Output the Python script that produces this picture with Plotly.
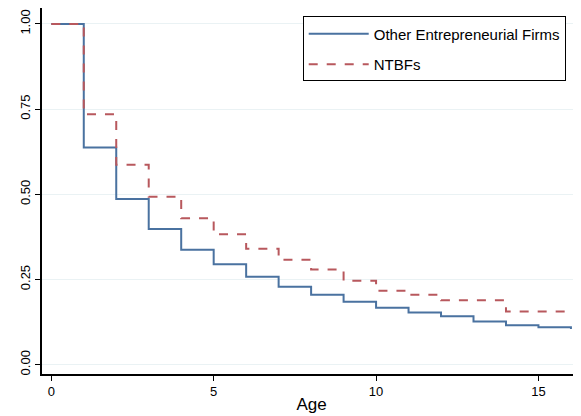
import plotly.graph_objects as go

ages = list(range(0, 17))
other_firms = [1.0, 0.637, 0.486, 0.398, 0.337, 0.295, 0.258, 0.229, 0.205,
               0.185, 0.167, 0.153, 0.142, 0.127, 0.116, 0.110, 0.105]
ntbfs = [1.0, 0.735, 0.587, 0.493, 0.430, 0.383, 0.340, 0.308, 0.279,
         0.246, 0.217, 0.205, 0.189, 0.189, 0.156, 0.156, 0.156]

y_ticks = [0.0, 0.25, 0.5, 0.75, 1.0]
y_tick_labels = ["0.00", "0.25", "0.50", "0.75", "1.00"]
x_ticks = [0, 5, 10, 15]

fig = go.Figure()
fig.add_trace(go.Scatter(x=ages, y=other_firms, mode="lines", line_shape="hv",
                         name="Other Entrepreneurial Firms", legendgroup="a",
                         line=dict(color="#4a72a0", width=2)))
fig.add_trace(go.Scatter(x=ages, y=ntbfs, mode="lines", line_shape="hv",
                         name="NTBFs", legendgroup="b",
                         line=dict(color="#b8585d", width=2, dash="dash")))

fig.update_layout(
    width=573, height=408,
    margin=dict(l=34, r=0, t=0, b=42),
    paper_bgcolor="white", plot_bgcolor="white",
    font=dict(family="Liberation Sans, Arial, sans-serif", color="black", size=13),
    showlegend=True,
    legend=dict(x=0.4837, y=0.977, xanchor="left", yanchor="top",
                bgcolor="white", bordercolor="black", borderwidth=1,
                font=dict(size=15), itemwidth=60, tracegroupgap=8),
    xaxis=dict(range=[-0.286, 16.31], tickvals=x_ticks, showgrid=False,
               showline=True, linecolor="black", linewidth=1.5,
               ticks="outside", ticklen=5, tickcolor="black",
               zeroline=False, title=dict(text="Age", font=dict(size=17), standoff=0)),
    yaxis=dict(range=[-0.0273, 1.0467], tickvals=y_ticks, ticktext=y_tick_labels,
               tickangle=-90, showgrid=True, gridcolor="#eaf2f4", gridwidth=1,
               showline=True, linecolor="black", linewidth=1.5,
               ticks="outside", ticklen=5, tickcolor="black", zeroline=False),
)

fig.write_html("out.html")
